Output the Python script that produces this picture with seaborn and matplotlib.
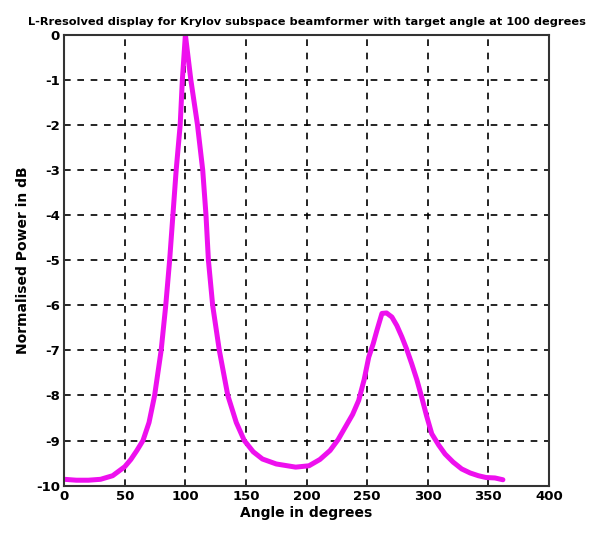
import numpy as np
import pandas as pd
import seaborn as sns
import matplotlib
matplotlib.use('Agg')
import matplotlib.pyplot as plt


TITLE = 'L-Rresolved display for Krylov subspace beamformer with target angle at 100 degrees'
XLABEL = 'Angle in degrees'
YLABEL = 'Normalised Power in dB'

# beam pattern
angles = [0, 10, 20, 30, 40, 50, 55, 60, 65, 70, 74.6, 80, 83.8, 87, 89.7,
          92.4, 95.7, 97.5, 100, 104.5, 110, 114.3, 117, 119, 122.5, 128,
          135, 142, 148.6, 156, 163.6, 175, 191, 202, 211, 219.4, 226, 232,
          238, 243, 247.5, 251.3, 255, 258, 262.2, 266, 270.4, 274.5, 278.6,
          282.7, 286.8, 291, 295, 299, 303.3, 309, 314.3, 321, 328, 335,
          341.7, 348, 355.4, 362]
power = [-9.86, -9.88, -9.88, -9.86, -9.78, -9.58, -9.42, -9.22, -9.0, -8.6,
         -8.0, -7.0, -6.0, -5.0, -4.0, -3.0, -2.0, -1.0, 0.0, -1.0, -2.0,
         -3.0, -4.0, -5.0, -6.0, -7.0, -8.0, -8.6, -9.0, -9.25, -9.41, -9.52,
         -9.59, -9.56, -9.42, -9.22, -8.98, -8.70, -8.42, -8.11, -7.65, -7.15,
         -6.85, -6.56, -6.18, -6.17, -6.26, -6.45, -6.70, -6.98, -7.30, -7.65,
         -8.04, -8.45, -8.85, -9.1, -9.30, -9.48, -9.63, -9.72, -9.78, -9.82,
         -9.83, -9.87]

xticks = [0, 50, 100, 150, 200, 250, 300, 350, 400]
yticks = [0, -1, -2, -3, -4, -5, -6, -7, -8, -9, -10]


def main():
    df = pd.DataFrame({'angle': angles, 'power': power})

    sns.set_style('white')
    plt.rcParams['font.family'] = ['DejaVu Sans']
    plt.rcParams['text.color'] = 'black'
    plt.rcParams['axes.labelcolor'] = 'black'

    fig = plt.figure(figsize=(5.89, 5.36), dpi=100)
    ax = fig.add_axes([0.109, 0.094, 0.823, 0.841])

    sns.lineplot(data=df, x='angle', y='power', color='#ee10ee', linewidth=3.6,
                 ax=ax, sort=False)

    ax.set_xlim(0, 400)
    ax.set_ylim(-10, 0)
    ax.set_xticks(xticks)
    ax.set_yticks(yticks)
    ax.set_xticklabels([str(t) for t in xticks], fontsize=9.5, fontweight='bold')
    ax.set_yticklabels([str(t) for t in yticks], fontsize=9.5, fontweight='bold')
    ax.tick_params(direction='in', length=4, width=1, colors='black', pad=3)

    ax.grid(True, color='black', linestyle=(0, (4, 4)), linewidth=1.2)
    for s in ax.spines.values():
        s.set_color('#333333')
        s.set_linewidth(1.5)

    ax.set_xlabel(XLABEL, fontsize=10, fontweight='bold', labelpad=2, color='black')
    ax.set_ylabel(YLABEL, fontsize=10, fontweight='bold', labelpad=4, color='black')
    ax.set_title(TITLE, fontsize=8.2, fontweight='bold', pad=7, color='black')

    fig.savefig('out.png', dpi=100)


if __name__ == '__main__':
    main()
